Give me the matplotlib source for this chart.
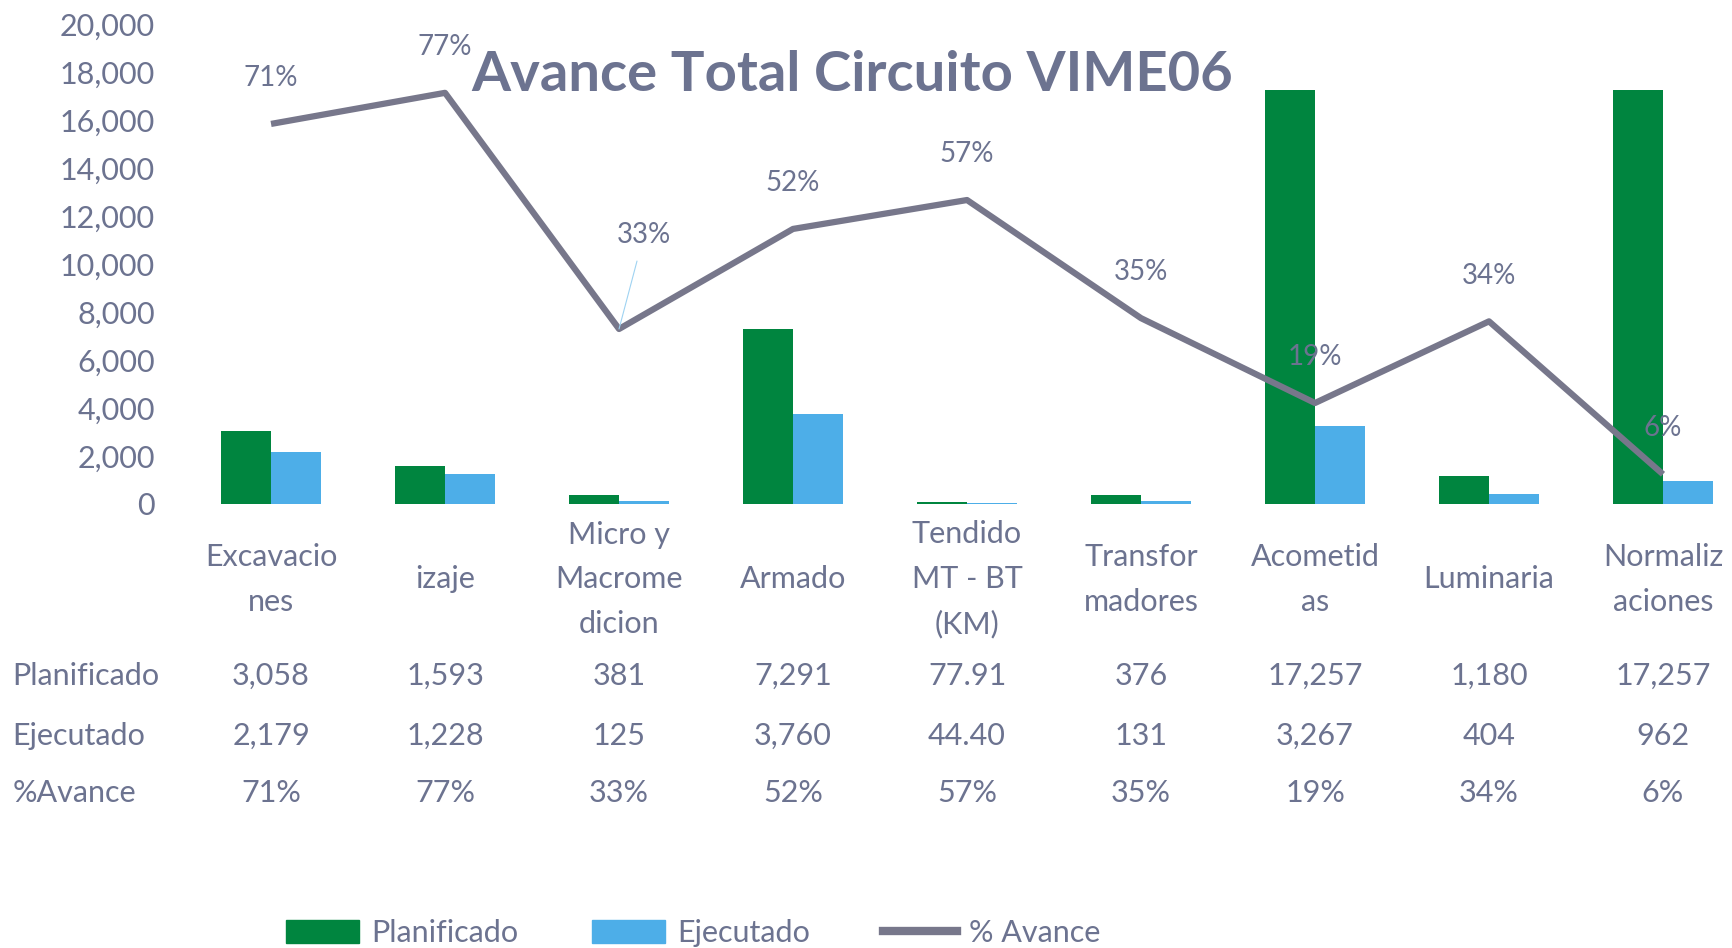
import matplotlib
matplotlib.use('Agg')
import matplotlib.pyplot as plt
from matplotlib.patches import Patch
from matplotlib.lines import Line2D
from matplotlib.transforms import blended_transform_factory

plt.rcParams['font.family'] = ['Lato', 'DejaVu Sans']

categories = ['Excavacio\nnes', 'izaje', 'Micro y\nMacrome\ndicion', 'Armado',
              'Tendido\nMT - BT\n(KM)', 'Transfor\nmadores', 'Acometid\nas',
              'Luminaria', 'Normaliz\naciones']
planificado = [3058, 1593, 381, 7291, 77.91, 376, 17257, 1180, 17257]
ejecutado = [2179, 1228, 125, 3760, 44.40, 131, 3267, 404, 962]
avance = [0.7126, 0.7709, 0.3281, 0.5157, 0.5699, 0.3484, 0.1893, 0.3424, 0.0557]
plan_labels = ['3,058', '1,593', '381', '7,291', '77.91', '376', '17,257', '1,180', '17,257']
ejec_labels = ['2,179', '1,228', '125', '3,760', '44.40', '131', '3,267', '404', '962']
avance_labels = ['71%', '77%', '33%', '52%', '57%', '35%', '19%', '34%', '6%']
yticks = [0, 2000, 4000, 6000, 8000, 10000, 12000, 14000, 16000, 18000, 20000]

GREEN = '#00853f'
BLUE = '#4daee8'
LINE = '#77778b'
TEXT = '#6c7390'
FS = 22

fig = plt.figure(figsize=(17.33, 9.48), dpi=100)
ax = fig.add_axes([0.1062, 0.4684, 0.9036, 0.5063])
x = list(range(len(categories)))
w = 0.29

ax.bar([i - w / 2 for i in x], planificado, width=w, color=GREEN)
ax.bar([i + w / 2 for i in x], ejecutado, width=w, color=BLUE)
ax.set_xlim(-0.5, len(categories) - 0.5)
ax.set_ylim(0, 20000)
ax.set_yticks(yticks)
ax.set_yticklabels([f'{v:,}' for v in yticks], fontsize=FS, color=TEXT)
ax.set_xticks([])
ax.tick_params(axis='y', length=0, pad=21)
for s in ax.spines.values():
    s.set_visible(False)

ax2 = ax.twinx()
ax2.plot(x, avance, color=LINE, lw=4.5, solid_capstyle='butt')
ax2.set_ylim(0, 0.9)
ax2.axis('off')

# etiquetas de la linea
for i, (v, lab) in enumerate(zip(avance, avance_labels)):
    if i == 2:
        ax2.annotate(lab, (i, v), xytext=(18, 68), textcoords='offset points',
                     ha='center', va='center', fontsize=20, color=TEXT,
                     arrowprops=dict(arrowstyle='-', color='#9fd3f2', lw=0.8,
                                     shrinkA=8, shrinkB=0))
    else:
        ax2.annotate(lab, (i, v), xytext=(0, 33), textcoords='offset points',
                     ha='center', va='center', fontsize=20, color=TEXT)

fig.text(0.492, 0.921, 'Avance Total Circuito VIME06', ha='center', va='center',
         fontsize=40.5, fontweight='bold', color=TEXT)

# tabla de datos
tr = blended_transform_factory(ax.transData, fig.transFigure)
for i, c in enumerate(categories):
    ax.text(i, 0.389, c, transform=tr, ha='center', va='center', fontsize=FS,
            color=TEXT, linespacing=1.72)
rows = [('Planificado', plan_labels, 0.287), ('Ejecutado', ejec_labels, 0.224),
        ('%Avance', avance_labels, 0.163)]
for name, labels, y in rows:
    fig.text(0.007, y, name, ha='left', va='center', fontsize=FS, color=TEXT)
    for i, lab in enumerate(labels):
        ax.text(i, y, lab, transform=tr, ha='center', va='center', fontsize=FS, color=TEXT)

handles = [Patch(color=GREEN), Patch(color=BLUE), Line2D([], [], color=LINE, lw=6)]
fig.legend(handles, ['Planificado', 'Ejecutado', '% Avance'], loc='center left',
           bbox_to_anchor=(0.149, 0.016), ncol=3, frameon=False, fontsize=FS,
           labelcolor=TEXT, handlelength=2.4, handleheight=0.8, handletextpad=0.4,
           columnspacing=2.4)

fig.savefig('out.png', dpi=100, facecolor='white')
